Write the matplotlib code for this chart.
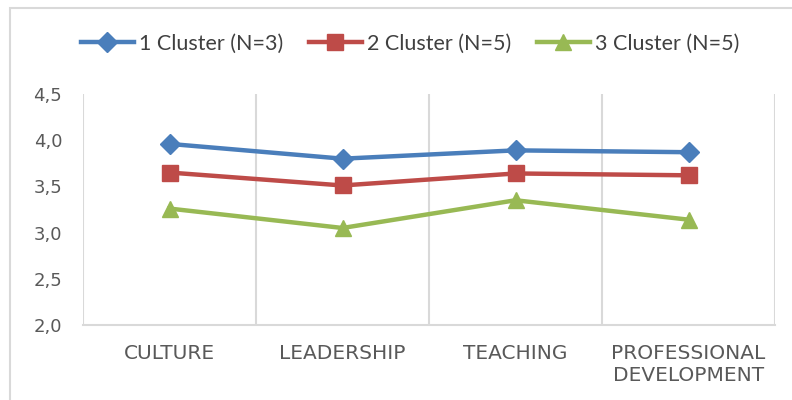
import matplotlib
matplotlib.use("Agg")
import matplotlib.pyplot as plt
from matplotlib.ticker import FuncFormatter, FixedLocator
from matplotlib.patches import Rectangle

categories = ["CULTURE", "LEADERSHIP", "TEACHING", "PROFESSIONAL\nDEVELOPMENT"]
series_names = ["1 Cluster (N=3)", "2 Cluster (N=5)", "3 Cluster (N=5)"]
cluster1 = [3.96, 3.80, 3.89, 3.87]
cluster2 = [3.65, 3.51, 3.64, 3.62]
cluster3 = [3.26, 3.05, 3.35, 3.14]
y_ticks = [2.0, 2.5, 3.0, 3.5, 4.0, 4.5]

colors = ["#4A7EBB", "#BE4B48", "#98B954"]
markers = ["D", "s", "^"]
msizes = [10, 12, 12]

fig = plt.figure(figsize=(7.92, 4.0), dpi=100)
ax = fig.add_axes([83/792, 1-325/400, (775-83)/792, (325-94)/400])

# chart border
fig.patches.append(Rectangle((10/792, -0.1), 1.2, 1.1 - 8/400, transform=fig.transFigure,
                             fill=False, edgecolor="#D9D9D9", linewidth=1.5))

x = list(range(len(categories)))
for vals, name, c, m, ms in zip([cluster1, cluster2, cluster3], series_names, colors, markers, msizes):
    ax.plot(x, vals, color=c, marker=m, markersize=ms, linewidth=3.2, label=name,
            markeredgecolor=c, solid_joinstyle="round")

ax.set_xlim(-0.5, len(categories) - 0.5)
ax.set_ylim(2.0, 4.5)
ax.set_yticks(y_ticks)
ax.yaxis.set_major_formatter(FuncFormatter(lambda v, p: f"{v:.1f}".replace(".", ",")))
ax.set_xticks(x)
ax.set_xticklabels(categories, fontsize=14.5, color="#595959", family="DejaVu Sans",
                   linespacing=1.2)
ax.xaxis.set_minor_locator(FixedLocator([i - 0.5 for i in range(len(categories) + 1)]))
ax.grid(False)
ax.grid(True, which="minor", axis="x", color="#D9D9D9", linewidth=1.5)
ax.tick_params(axis="x", which="both", length=0, pad=14)
ax.tick_params(axis="y", length=0, pad=15, labelsize=13, labelcolor="#595959")
for s in ["top", "right", "left"]:
    ax.spines[s].set_visible(False)
ax.spines["bottom"].set_color("#D9D9D9")
ax.spines["bottom"].set_linewidth(1.5)

leg = fig.legend(loc="center", bbox_to_anchor=(410/792, 1-44/400), ncol=3, frameon=False,
                 prop={"family": ["Lato", "DejaVu Sans"], "size": 15.5},
                 handlelength=2.5, handletextpad=0.22, columnspacing=1.17)
for t in leg.get_texts():
    t.set_color("#404040")

fig.savefig("out.png", dpi=100)
